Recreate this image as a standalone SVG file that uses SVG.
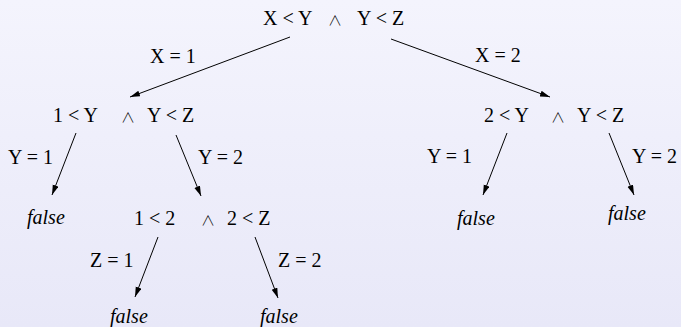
<svg xmlns="http://www.w3.org/2000/svg" width="681" height="327" viewBox="0 0 681 327">
<defs>
<linearGradient id="bg" x1="0" y1="0" x2="0" y2="1">
<stop offset="0" stop-color="#f4f4fd"/>
<stop offset="1" stop-color="#e8e8f8"/>
</linearGradient>
<marker id="arr" markerUnits="userSpaceOnUse" markerWidth="11" markerHeight="7" refX="10" refY="3" orient="auto">
<path d="M0,0 L10,3 L0,6 Z" fill="#000"/>
</marker>
<style>
text{font-family:"Liberation Serif","Times New Roman",serif;font-size:20px;fill:#000}
.f{font-style:italic}
.and{font-family:"DejaVu Sans ExtraLight","Noto Sans CJK SC","DejaVu Sans",sans-serif;font-weight:300;font-size:14px;text-anchor:middle}
.e line{stroke:#000;stroke-width:1;marker-end:url(#arr)}
</style>
</defs>
<rect width="681" height="327" fill="url(#bg)"/>
<g id="root"><text x="263" y="25">X &lt; Y</text><text class="and" x="335" y="25">∧</text><text x="357" y="25">Y &lt; Z</text></g>
<g id="n1"><text x="53" y="122">1 &lt; Y</text><text class="and" x="128" y="122">∧</text><text x="147" y="122">Y &lt; Z</text></g>
<g id="n2"><text x="484" y="122">2 &lt; Y</text><text class="and" x="558" y="122">∧</text><text x="577" y="122">Y &lt; Z</text></g>
<g id="n3"><text class="f" x="27" y="224">false</text></g>
<g id="n4"><text x="134" y="225">1 &lt; 2</text><text class="and" x="208" y="225">∧</text><text x="227" y="225">2 &lt; Z</text></g>
<g id="n5"><text class="f" x="457" y="225">false</text></g>
<g id="n6"><text class="f" x="608" y="220">false</text></g>
<g id="n7"><text class="f" x="110" y="323">false</text></g>
<g id="n8"><text class="f" x="260" y="323">false</text></g>
<g id="connectors" class="e">
<line x1="290" y1="37" x2="130" y2="97"/>
<line x1="391" y1="39" x2="550" y2="97"/>
<line x1="76" y1="133" x2="52" y2="195"/>
<line x1="176" y1="135" x2="201" y2="196"/>
<line x1="158" y1="237" x2="135" y2="297"/>
<line x1="255" y1="237" x2="278" y2="298"/>
<line x1="507" y1="133" x2="483" y2="195"/>
<line x1="609" y1="133" x2="634" y2="195"/>
</g>
<g id="labels">
<text x="150" y="63">X = 1</text>
<text x="475" y="62">X = 2</text>
<text x="8" y="164">Y = 1</text>
<text x="198" y="164">Y = 2</text>
<text x="90" y="267">Z = 1</text>
<text x="278" y="267">Z = 2</text>
<text x="427" y="163">Y = 1</text>
<text x="632" y="163">Y = 2</text>
</g>
</svg>
